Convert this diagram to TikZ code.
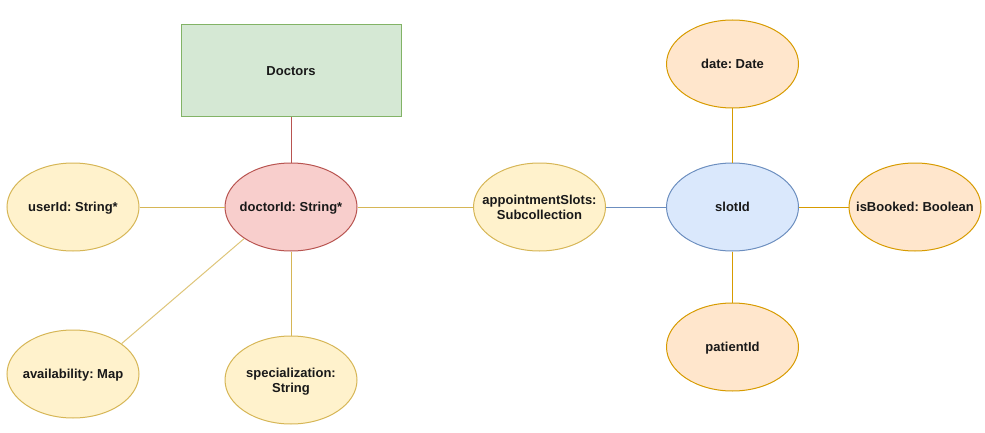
\documentclass[tikz,border=0pt]{standalone}
\usepackage{fontspec}
\setmainfont{Liberation Sans}
\frenchspacing
\usetikzlibrary{shapes.geometric}
\definecolor{grnfill}{HTML}{D5E8D4}\definecolor{grnline}{HTML}{82B366}
\definecolor{redfill}{HTML}{F8CECC}\definecolor{redline}{HTML}{B85450}
\definecolor{ylwfill}{HTML}{FFF2CC}\definecolor{ylwline}{HTML}{D6B656}
\definecolor{bluefill}{HTML}{DAE8FC}\definecolor{blueline}{HTML}{6C8EBF}
\definecolor{orgfill}{HTML}{FFE6CC}\definecolor{orgline}{HTML}{D79B00}
% text of fixed-size ellipses, kept from widening the shape
\newcommand{\fixtext}[1]{\makebox[0pt][c]{\smash{\raisebox{-4.5pt}{\begin{tabular}{@{}c@{}}#1\end{tabular}}}}}
\tikzset{attr/.style={ellipse, draw, line width=1pt, minimum width=132pt, minimum height=88pt, inner sep=0pt, font=\bfseries\fontsize{13}{15}\selectfont, text=black!90},
        ylw/.style={attr, fill=ylwfill, draw=ylwline},
        org/.style={attr, fill=orgfill, draw=orgline}}
\begin{document}
\begin{tikzpicture}[x=1pt,y=-1pt]
        \useasboundingbox (0,0) rectangle (985,433);

        \node[draw=grnline, fill=grnfill, line width=1pt, minimum width=220pt, minimum height=92pt, font=\bfseries\fontsize{13}{15}\selectfont, text=black!90] (doctors) at (291,71) {Doctors};
        \node[attr, fill=redfill, draw=redline] (doctorid) at (291,207) {\fixtext{doctorId: String*}};
        \node[ylw] (userid) at (73,207) {\fixtext{userId: String*}};
        \node[ylw] (avail) at (73,374) {\fixtext{availability: Map}};
        \node[ylw] (spec) at (291,380) {\fixtext{specialization:\\String}};
        \node[ylw] (slots) at (539.5,207) {\fixtext{appointmentSlots:\\Subcollection}};

                \node[attr, fill=bluefill, draw=blueline] (slotid) at (732.5,207) {\fixtext{slotId}};
                \node[org] (date) at (732.5,64) {\fixtext{date: Date}};
                \node[org] (booked) at (915,207) {\fixtext{isBooked: Boolean}};
                \node[org] (patient) at (732.5,347) {\fixtext{patientId}};

        % links
        \draw[redline, line width=1pt] (doctors) -- (doctorid);
        \draw[ylwline, line width=1pt] (userid) -- (doctorid) (doctorid) -- (slots) (doctorid) -- (spec);
        \draw[ylwline!80, line width=1pt] (avail.32) -- (doctorid.214);
                \draw[blueline, line width=1pt] (slots) -- (slotid);
                \draw[orgline, line width=1pt] (slotid) -- (date) (slotid) -- (booked) (slotid) -- (patient);
\end{tikzpicture}
\end{document}
